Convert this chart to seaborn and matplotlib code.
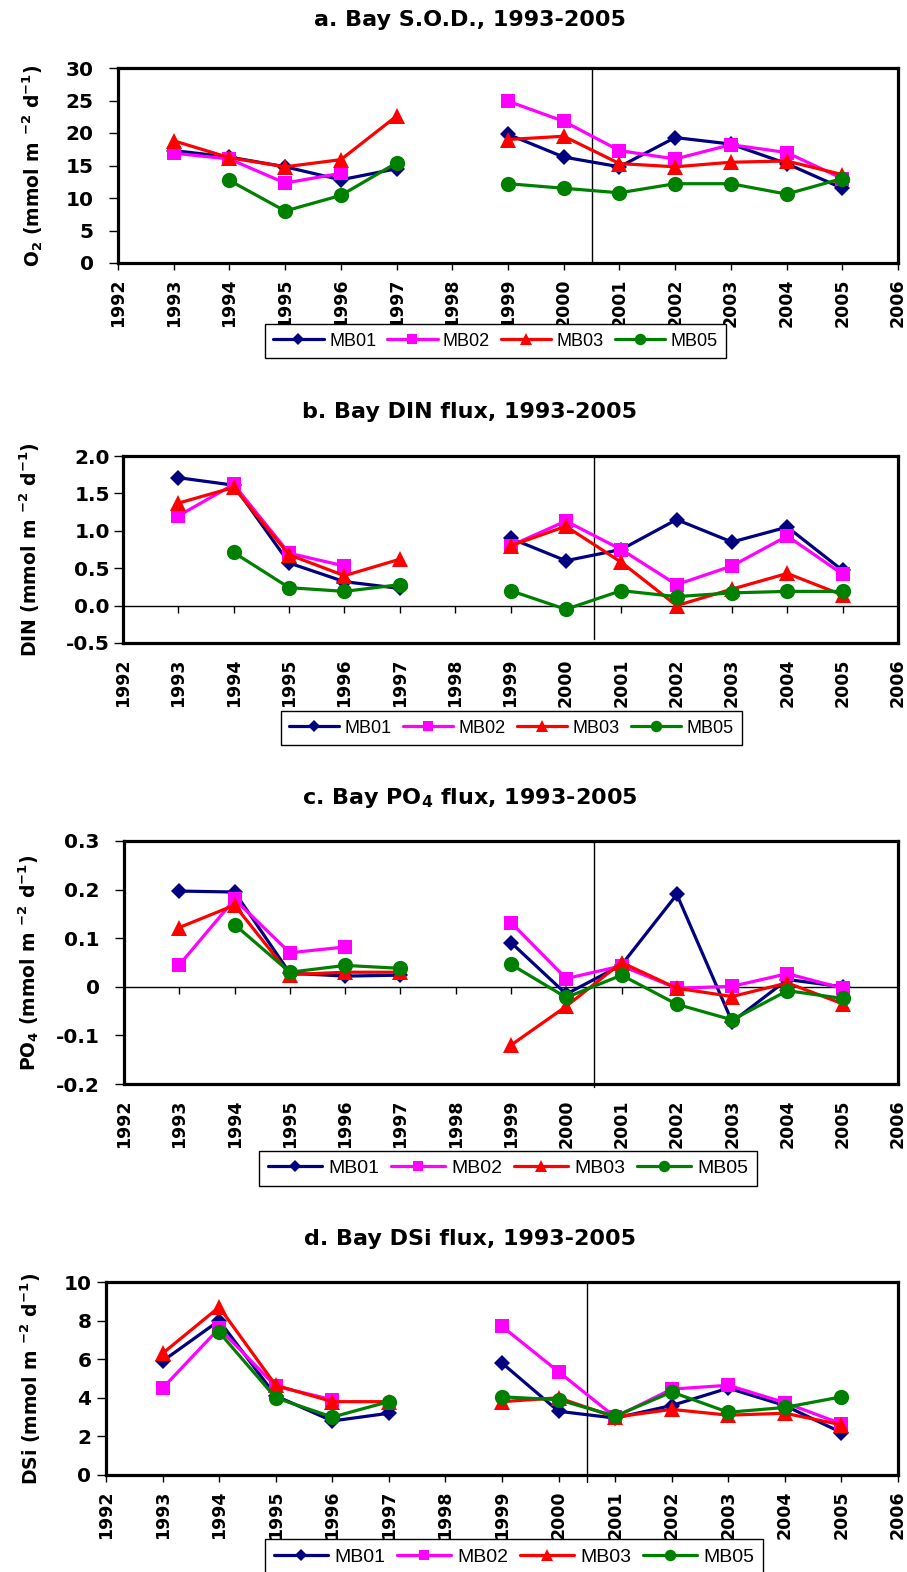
import matplotlib
matplotlib.use("Agg")
import matplotlib.pyplot as plt
import seaborn as sns
import pandas as pd
from matplotlib.lines import Line2D

# ---- data (None = no sample) ----
years = list(range(1993, 2006))
stations = ["MB01", "MB02", "MB03", "MB05"]

sod_mb01 = [17.3, 16.3, 14.8, 12.8, 14.5, None, 19.8, 16.3, 14.8, 19.3, 18.3, 15.3, 11.5]
sod_mb02 = [16.9, 16.0, 12.3, 13.8, None, None, 24.9, 21.8, 17.3, 16.0, 18.2, 17.0, 13.0]
sod_mb03 = [18.8, 16.2, 14.8, 15.9, 22.6, None, 19.0, 19.5, 15.3, 14.8, 15.5, 15.7, 13.6]
sod_mb05 = [None, 12.7, 8.0, 10.4, 15.4, None, 12.2, 11.5, 10.8, 12.2, 12.2, 10.6, 13.0]

din_mb01 = [1.71, 1.61, 0.57, 0.32, 0.23, None, 0.90, 0.60, 0.75, 1.15, 0.85, 1.05, 0.47]
din_mb02 = [1.20, 1.62, 0.70, 0.53, None, None, 0.80, 1.13, 0.75, 0.28, 0.53, 0.93, 0.42]
din_mb03 = [1.37, 1.58, 0.68, 0.40, 0.62, None, 0.80, 1.06, 0.58, 0.00, 0.22, 0.43, 0.14]
din_mb05 = [None, 0.71, 0.24, 0.19, 0.28, None, 0.20, -0.05, 0.20, 0.12, 0.17, 0.19, 0.19]

po4_mb01 = [0.197, 0.195, 0.028, 0.022, 0.024, None, 0.091, -0.015, 0.045, 0.190, -0.072, 0.015, 0.000]
po4_mb02 = [0.045, 0.180, 0.070, 0.082, None, None, 0.132, 0.017, 0.043, -0.003, 0.001, 0.027, -0.003]
po4_mb03 = [0.122, 0.168, 0.025, 0.030, 0.030, None, -0.120, -0.040, 0.050, -0.003, -0.020, 0.008, -0.035]
po4_mb05 = [None, 0.128, 0.030, 0.044, 0.038, None, 0.046, -0.022, 0.024, -0.036, -0.068, -0.008, -0.024]

dsi_mb01 = [5.9, 8.0, 4.1, 2.8, 3.2, None, 5.8, 3.3, 2.95, 3.6, 4.5, 3.6, 2.2]
dsi_mb02 = [4.5, 7.6, 4.6, 3.9, None, None, 7.7, 5.35, 3.0, 4.45, 4.65, 3.75, 2.65]
dsi_mb03 = [6.3, 8.7, 4.65, 3.8, 3.8, None, 3.8, 4.0, 3.0, 3.4, 3.1, 3.2, 2.6]
dsi_mb05 = [None, 7.4, 4.0, 3.0, 3.8, None, 4.05, 3.9, 3.05, 4.3, 3.25, 3.5, 4.05]

xtick_years = list(range(1992, 2007))
sod_ticks = [0, 5, 10, 15, 20, 25, 30]
din_ticks = [-0.5, 0.0, 0.5, 1.0, 1.5, 2.0]
din_labels = ["-0.5", "0.0", "0.5", "1.0", "1.5", "2.0"]
po4_ticks = [-0.2, -0.1, 0.0, 0.1, 0.2, 0.3]
po4_labels = ["-0.2", "-0.1", "0", "0.1", "0.2", "0.3"]
dsi_ticks = [0, 2, 4, 6, 8, 10]

colors = {"MB01": "#000080", "MB02": "#FF00FF", "MB03": "#FF0000", "MB05": "#008000"}
markers = {"MB01": "D", "MB02": "s", "MB03": "^", "MB05": "o"}
msizes = {"MB01": 8.5, "MB02": 10, "MB03": 12, "MB05": 11}

sns.set_style("white")
plt.rcParams["font.family"] = ["DejaVu Sans"]
plt.rcParams["mathtext.default"] = "regular"
for key in ["text.color", "axes.labelcolor", "xtick.color", "ytick.color"]:
    plt.rcParams[key] = "black"

W, H = 907, 1572
fig = plt.figure(figsize=(W / 100, H / 100), dpi=100)


def long_df(series):
    rows = []
    for st, vals in zip(stations, series):
        for yr, v in zip(years, vals):
            if v is not None:
                rows.append({"year": yr, "value": v, "station": st,
                             "period": "a" if yr < 1998 else "b"})
    return pd.DataFrame(rows)


panels = [
    dict(series=[sod_mb01, sod_mb02, sod_mb03, sod_mb05],
         title="a. Bay S.O.D., 1993-2005", title_y=20,
         ylabel=r"O$_2$ (mmol m $^{-2}$ d$^{-1}$)", ylab_x=-0.094,
         box=(118, 68, 898, 263), ylim=(0, 30), yticks=sod_ticks, ylabels=None,
         zero=False, vmin=0.0, leg=(0.484, -0.40), legfs=13, ypad=11),
    dict(series=[din_mb01, din_mb02, din_mb03, din_mb05],
         title="b. Bay DIN flux, 1993-2005", title_y=412,
         ylabel=r"DIN (mmol m $^{-2}$ d$^{-1}$)", ylab_x=-0.104,
         box=(123, 456, 898, 643), ylim=(-0.5, 2.0), yticks=din_ticks, ylabels=din_labels,
         zero=True, vmin=0.02, leg=(0.501, -0.455), legfs=13, ypad=3),
    dict(series=[po4_mb01, po4_mb02, po4_mb03, po4_mb05],
         title=r"c. Bay PO$_4$ flux, 1993-2005", title_y=798,
         ylabel=r"PO$_4$ (mmol m $^{-2}$ d$^{-1}$)", ylab_x=-0.107,
         box=(124, 841, 898, 1084), ylim=(-0.2, 0.3), yticks=po4_ticks, ylabels=po4_labels,
         zero=True, vmin=-0.012, leg=(0.496, -0.346), legfs=14, ypad=11),
    dict(series=[dsi_mb01, dsi_mb02, dsi_mb03, dsi_mb05],
         title="d. Bay DSi flux, 1993-2005", title_y=1239,
         ylabel=r"DSi (mmol m $^{-2}$ d$^{-1}$)", ylab_x=-0.080,
         box=(106, 1282, 898, 1475), ylim=(0, 10), yticks=dsi_ticks, ylabels=None,
         zero=False, vmin=-0.036, leg=(0.515, -0.425), legfs=14, ypad=4),
]

for p in panels:
    l, t, r, b = p["box"]
    ax = fig.add_axes([l / W, 1 - b / H, (r - l) / W, (b - t) / H])
    df = long_df(p["series"])

    for st in stations:
        sub = df[df["station"] == st]
        sns.lineplot(data=sub, x="year", y="value", units="period", estimator=None,
                     color=colors[st], marker=markers[st], markersize=msizes[st],
                     markeredgewidth=0, linewidth=2.3, legend=False, ax=ax, zorder=3)

    ax.set_xlim(1992, 2006)
    ax.set_ylim(*p["ylim"])
    ax.set_xticks(xtick_years)
    ax.set_xticklabels([str(y) for y in xtick_years], rotation=90,
                       fontsize=12.5, fontweight="bold")
    ax.set_yticks(p["yticks"])
    if p["ylabels"] is not None:
        ax.set_yticklabels(p["ylabels"])
    for lab in ax.get_yticklabels():
        lab.set_fontsize(14.5)
        lab.set_fontweight("bold")
    ax.set_xlabel("")
    ax.set_ylabel(p["ylabel"], fontsize=13.5, fontweight="bold")
    ax.yaxis.set_label_coords(p["ylab_x"], 0.5)

    for s in ax.spines.values():
        s.set_visible(True)
        s.set_color("black")
        s.set_linewidth(2.3)

    ax.tick_params(axis="y", direction="out", length=6.5, width=1, pad=p["ypad"],
                   left=True, colors="black")
    if p["zero"]:
        ax.tick_params(axis="x", length=0, pad=11, bottom=True)
        ax.axhline(0, color="black", lw=1, zorder=1)
        y0, y1 = p["ylim"]
        sec = ax.secondary_xaxis((0 - y0) / (y1 - y0))
        sec.set_xticks(xtick_years)
        sec.tick_params(axis="x", direction="out", length=5, width=1, labelbottom=False)
        for s in sec.spines.values():
            s.set_visible(False)
    else:
        ax.tick_params(axis="x", direction="out", length=5, width=1, pad=6, bottom=True)

    ax.axvline(2000.5, ymin=p["vmin"], ymax=1, color="black", lw=1,
               clip_on=False, zorder=2)

    fig.text(470 / W, 1 - p["title_y"] / H, p["title"], ha="center", va="center",
             fontsize=16, fontweight="bold", color="black")

    handles = [Line2D([0], [0], color=colors[st], marker=markers[st],
                      markersize=msizes[st] * 0.75, markeredgewidth=0, linewidth=2.3,
                      label=st) for st in stations]
    leg = ax.legend(handles=handles, loc="center", bbox_to_anchor=p["leg"], ncol=4,
                    frameon=True, fancybox=False, edgecolor="black", framealpha=1,
                    handlelength=2.8, handletextpad=0.3, columnspacing=0.6,
                    borderpad=0.45, prop={"family": ["Liberation Sans", "DejaVu Sans"],
                                          "size": p["legfs"]})
    leg.get_frame().set_linewidth(1)

fig.savefig("out.png", dpi=100)
